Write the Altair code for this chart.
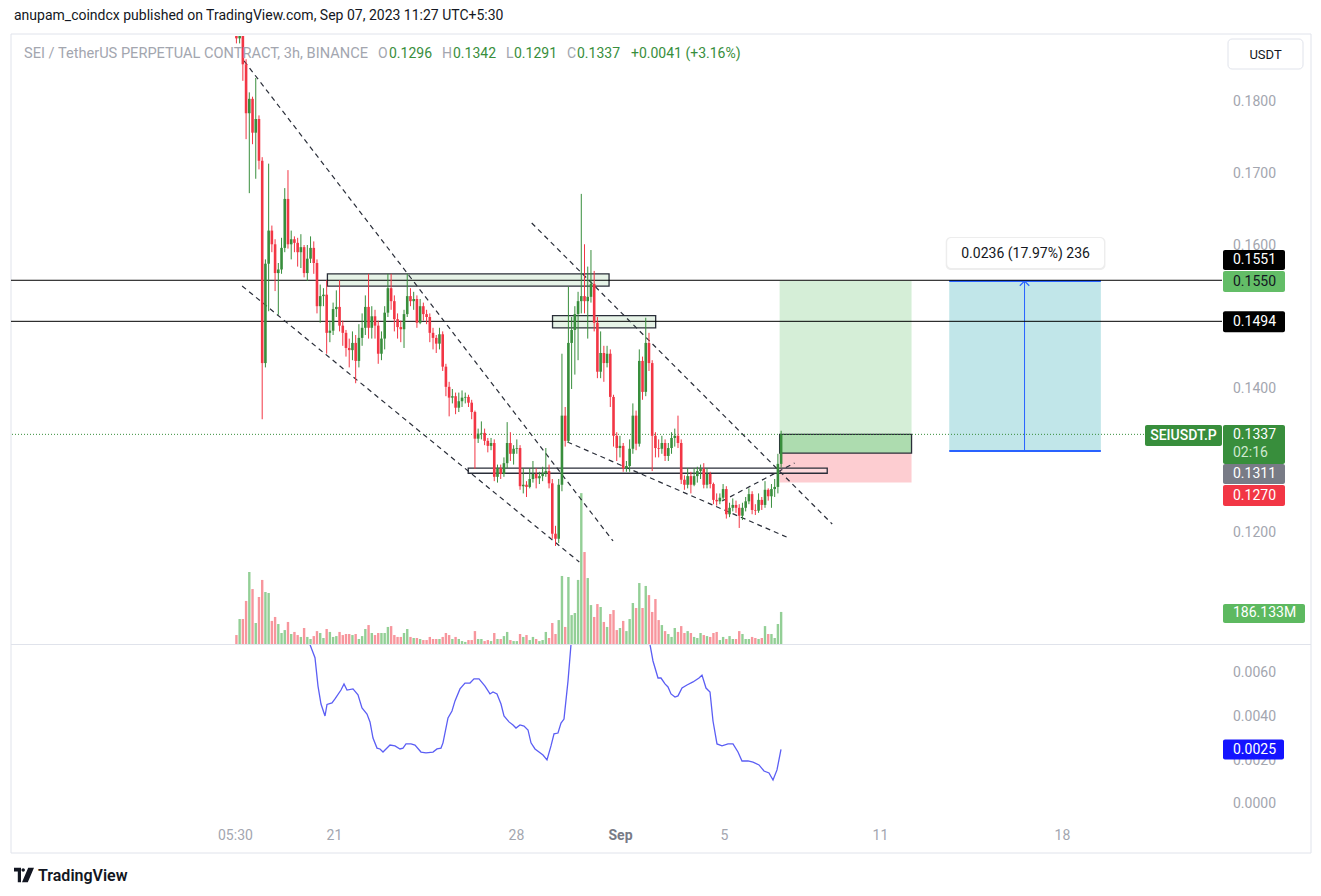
import altair as alt
import pandas as pd

# ---------------- data ----------------
first_open = 0.1900
closes = [
    0.1887, 0.1895, 0.1851, 0.1783, 0.1803, 0.1756, 0.1775, 0.1717, 0.1436, 0.1574,
    0.1620, 0.1601, 0.1561, 0.1566, 0.1596, 0.1664, 0.1601, 0.1608, 0.1603, 0.1590,
    0.1597, 0.1561, 0.1581, 0.1596, 0.1575, 0.1515, 0.1529, 0.1531, 0.1478, 0.1481,
    0.1511, 0.1514, 0.1488, 0.1478, 0.1457, 0.1454, 0.1464, 0.1439, 0.1471, 0.1485,
    0.1514, 0.1485, 0.1501, 0.1488, 0.1449, 0.1470, 0.1506, 0.1540, 0.1522, 0.1497,
    0.1486, 0.1483, 0.1504, 0.1529, 0.1522, 0.1525, 0.1492, 0.1515, 0.1504, 0.1500,
    0.1478, 0.1471, 0.1463, 0.1476, 0.1431, 0.1403, 0.1388, 0.1390, 0.1374, 0.1383,
    0.1388, 0.1389, 0.1381, 0.1368, 0.1331, 0.1338, 0.1339, 0.1328, 0.1321, 0.1325,
    0.1278, 0.1290, 0.1282, 0.1297, 0.1325, 0.1310, 0.1317, 0.1318, 0.1265, 0.1267,
    0.1264, 0.1275, 0.1282, 0.1276, 0.1279, 0.1283, 0.1286, 0.1269, 0.1199, 0.1192,
    0.1267, 0.1363, 0.1328, 0.1464, 0.1482, 0.1504, 0.1522, 0.1529, 0.1522, 0.1528,
    0.1546, 0.1492, 0.1424, 0.1450, 0.1436, 0.1449, 0.1389, 0.1335, 0.1318, 0.1321,
    0.1290, 0.1293, 0.1317, 0.1363, 0.1324, 0.1439, 0.1396, 0.1464, 0.1436, 0.1335,
    0.1318, 0.1317, 0.1325, 0.1307, 0.1318, 0.1332, 0.1335, 0.1325, 0.1274, 0.1267,
    0.1279, 0.1267, 0.1279, 0.1286, 0.1289, 0.1267, 0.1282, 0.1268, 0.1246, 0.1244,
    0.1249, 0.1261, 0.1226, 0.1235, 0.1239, 0.1235, 0.1224, 0.1235, 0.1244, 0.1254,
    0.1232, 0.1231, 0.1246, 0.1239, 0.1260, 0.1251, 0.1261, 0.1264, 0.1296, 0.1337,
]
highs = [
    0.1915, 0.1910, 0.1898, 0.1858, 0.1812, 0.1806, 0.1832, 0.1780, 0.1722, 0.1580,
    0.1713, 0.1627, 0.1608, 0.1575, 0.1610, 0.1679, 0.1704, 0.1620, 0.1612, 0.1610,
    0.1615, 0.1600, 0.1600, 0.1612, 0.1605, 0.1580, 0.1545, 0.1540, 0.1551, 0.1495,
    0.1520, 0.1537, 0.1551, 0.1495, 0.1482, 0.1470, 0.1480, 0.1475, 0.1490, 0.1505,
    0.1530, 0.1560, 0.1515, 0.1510, 0.1495, 0.1480, 0.1515, 0.1560, 0.1560, 0.1530,
    0.1505, 0.1495, 0.1510, 0.1560, 0.1540, 0.1535, 0.1530, 0.1525, 0.1520, 0.1510,
    0.1505, 0.1485, 0.1475, 0.1485, 0.1480, 0.1435, 0.1410, 0.1400, 0.1395, 0.1395,
    0.1398, 0.1395, 0.1392, 0.1385, 0.1370, 0.1345, 0.1355, 0.1345, 0.1332, 0.1332,
    0.1330, 0.1295, 0.1295, 0.1305, 0.1354, 0.1340, 0.1322, 0.1330, 0.1322, 0.1290,
    0.1272, 0.1290, 0.1300, 0.1290, 0.1285, 0.1292, 0.1318, 0.1295, 0.1275, 0.1210,
    0.1275, 0.1449, 0.1375, 0.1542, 0.1500, 0.1515, 0.1535, 0.1671, 0.1601, 0.1570,
    0.1593, 0.1564, 0.1500, 0.1480, 0.1460, 0.1460, 0.1455, 0.1392, 0.1340, 0.1335,
    0.1325, 0.1300, 0.1330, 0.1380, 0.1370, 0.1455, 0.1445, 0.1499, 0.1478, 0.1440,
    0.1340, 0.1330, 0.1335, 0.1330, 0.1325, 0.1340, 0.1345, 0.1363, 0.1330, 0.1280,
    0.1290, 0.1285, 0.1290, 0.1292, 0.1295, 0.1297, 0.1290, 0.1285, 0.1270, 0.1255,
    0.1255, 0.1268, 0.1265, 0.1242, 0.1248, 0.1245, 0.1240, 0.1242, 0.1250, 0.1262,
    0.1258, 0.1240, 0.1255, 0.1250, 0.1272, 0.1262, 0.1268, 0.1275, 0.1310, 0.1342,
]
lows = [
    0.1880, 0.1880, 0.1828, 0.1747, 0.1672, 0.1740, 0.1692, 0.1705, 0.1358, 0.1430,
    0.1508, 0.1590, 0.1536, 0.1503, 0.1560, 0.1590, 0.1595, 0.1580, 0.1590, 0.1570,
    0.1568, 0.1555, 0.1550, 0.1575, 0.1560, 0.1505, 0.1492, 0.1515, 0.1449, 0.1465,
    0.1475, 0.1500, 0.1480, 0.1460, 0.1445, 0.1430, 0.1440, 0.1408, 0.1430, 0.1460,
    0.1475, 0.1470, 0.1470, 0.1470, 0.1435, 0.1440, 0.1455, 0.1500, 0.1510, 0.1480,
    0.1470, 0.1465, 0.1457, 0.1500, 0.1515, 0.1510, 0.1485, 0.1490, 0.1495, 0.1490,
    0.1465, 0.1455, 0.1450, 0.1455, 0.1425, 0.1390, 0.1362, 0.1380, 0.1365, 0.1368,
    0.1375, 0.1380, 0.1375, 0.1358, 0.1289, 0.1325, 0.1330, 0.1322, 0.1312, 0.1315,
    0.1272, 0.1270, 0.1275, 0.1278, 0.1290, 0.1300, 0.1295, 0.1310, 0.1260, 0.1255,
    0.1250, 0.1262, 0.1270, 0.1262, 0.1268, 0.1272, 0.1278, 0.1262, 0.1192, 0.1182,
    0.1186, 0.1258, 0.1320, 0.1325, 0.1400, 0.1420, 0.1440, 0.1505, 0.1505, 0.1470,
    0.1520, 0.1480, 0.1415, 0.1415, 0.1410, 0.1430, 0.1375, 0.1320, 0.1300, 0.1305,
    0.1285, 0.1285, 0.1285, 0.1310, 0.1315, 0.1320, 0.1385, 0.1390, 0.1425, 0.1286,
    0.1305, 0.1305, 0.1310, 0.1300, 0.1300, 0.1310, 0.1320, 0.1318, 0.1268, 0.1260,
    0.1262, 0.1255, 0.1265, 0.1270, 0.1275, 0.1262, 0.1262, 0.1262, 0.1240, 0.1238,
    0.1240, 0.1245, 0.1220, 0.1222, 0.1230, 0.1228, 0.1207, 0.1218, 0.1230, 0.1240,
    0.1226, 0.1225, 0.1228, 0.1232, 0.1235, 0.1245, 0.1235, 0.1250, 0.1255, 0.1291,
]
volumes_m = [
    52, 145, 145, 250, 418, 319, 122, 273, 372, 302,
    296, 134, 157, 116, 64, 81, 128, 58, 70, 52,
    41, 93, 41, 29, 46, 75, 64, 35, 87, 70,
    41, 46, 70, 52, 58, 58, 52, 58, 29, 46,
    87, 110, 64, 52, 64, 64, 64, 99, 104, 52,
    41, 41, 64, 87, 41, 35, 35, 29, 23, 23,
    41, 29, 29, 29, 41, 64, 52, 29, 41, 29,
    17, 12, 23, 23, 75, 29, 29, 17, 23, 17,
    64, 29, 29, 46, 70, 23, 17, 17, 58, 41,
    52, 23, 41, 29, 17, 23, 70, 35, 122, 58,
    139, 395, 99, 389, 168, 180, 372, 876, 534, 383,
    226, 157, 232, 215, 128, 99, 174, 197, 81, 93,
    134, 75, 145, 238, 209, 354, 209, 337, 284, 186,
    261, 139, 110, 75, 58, 41, 93, 70, 104, 64,
    75, 64, 41, 35, 64, 52, 46, 41, 64, 70,
    23, 41, 29, 46, 29, 29, 75, 58, 29, 29,
    41, 35, 29, 35, 104, 58, 58, 35, 116, 186.133,
]
# lower indicator (day of month, value)
ind_days = [
    19.96, 20.077, 20.269, 20.385, 20.5, 20.654, 20.731, 20.923, 21.038, 21.269,
    21.385, 21.5, 21.731, 21.923, 22.077, 22.269, 22.385, 22.5, 22.654, 22.769,
    22.885, 23.154, 23.346, 23.538, 23.654, 23.769, 23.962, 24.115, 24.346, 24.538,
    24.808, 24.962, 25.115, 25.192, 25.385, 25.538, 25.654, 25.846, 26.038, 26.231,
    26.385, 26.577, 26.808, 27.0, 27.115, 27.269, 27.423, 27.538, 27.731, 27.885,
    28.0, 28.154, 28.308, 28.462, 28.577, 28.731, 28.885, 29.038, 29.192, 29.346,
    29.462, 29.615, 29.731, 29.846, 30.0, 30.115, 30.5, 31.27, 32.04, 32.81,
    33.154, 33.269, 33.462, 33.577, 33.731, 33.846, 33.962, 34.115, 34.231, 34.385,
    34.577, 34.808, 35.038, 35.154, 35.308, 35.462, 35.577, 35.731, 35.923, 36.154,
    36.346, 36.538, 36.692, 36.923, 37.115, 37.346, 37.538, 37.731, 37.885, 38.038,
    38.192,
]
ind_vals = [
    0.0085, 0.0073, 0.0067, 0.0054, 0.00458, 0.00403, 0.00456, 0.00463, 0.00481, 0.00522,
    0.0055, 0.00522, 0.00527, 0.0050, 0.0044, 0.00412, 0.00376, 0.00302, 0.00256, 0.00252,
    0.00238, 0.0027, 0.00266, 0.00252, 0.00256, 0.00275, 0.00275, 0.0027, 0.00238, 0.00234,
    0.00238, 0.00252, 0.00256, 0.0028, 0.00394, 0.00426, 0.00472, 0.00527, 0.00554, 0.00554,
    0.00573, 0.00573, 0.0054, 0.00504, 0.00513, 0.00504, 0.00458, 0.00403, 0.00376, 0.00362,
    0.00348, 0.00362, 0.00357, 0.00339, 0.0028, 0.00252, 0.00238, 0.00224, 0.00202, 0.00266,
    0.00321, 0.00325, 0.00371, 0.00389, 0.00563, 0.0073, 0.0095, 0.0110, 0.0110, 0.0090,
    0.0073, 0.00655, 0.00577, 0.00577, 0.0055, 0.00536, 0.00504, 0.0049, 0.00495, 0.00531,
    0.00545, 0.00559, 0.00577, 0.0059, 0.00531, 0.00513, 0.0038, 0.00275, 0.00266, 0.00275,
    0.00275, 0.00238, 0.00197, 0.00197, 0.00192, 0.00179, 0.00151, 0.00142, 0.0011, 0.00156,
    0.0025,
]

# price-scale tick labels that the picture shows (others are hidden behind price tags)
price_ticks = [0.12, 0.14, 0.16, 0.17, 0.18]
ind_ticks = [0.0, 0.002, 0.004, 0.006]
x_tick_days = [17.19, 21, 28, 32, 36, 42, 49]
x_tick_labels = ["05:30", "21", "28", "Sep", "5", "11", "18"]

hlines = [0.1551, 0.1494]

box_x0 = [20.654, 29.385, 26.115]
box_x1 = [31.577, 33.385, 40.038]
box_lo = [0.1543, 0.1485, 0.1283]
box_hi = [0.1560, 0.1502, 0.1290]

trend_x0 = [17.423, 17.346, 28.577, 29.962, 35.962]
trend_p0 = [0.18556, 0.15431, 0.16306, 0.13264, 0.12444]
trend_x1 = [31.731, 30.423, 40.231, 38.462, 38.769]
trend_p1 = [0.11889, 0.11597, 0.12125, 0.11944, 0.12972]

pos_x0, pos_x1 = 38.192, 43.308
pos_entry, pos_target, pos_stop = 0.1311, 0.1550, 0.1270
last_price = closes[-1]

meas_x0, meas_x1, meas_mid = 44.77, 50.65, 47.69
meas_lo, meas_hi = 0.1314, 0.1550
meas_text = "0.0236 (17.97%) 236"

attribution = "anupam_coindcx published on TradingView.com, Sep 07, 2023 11:27 UTC+5:30"
symbol_title = "SEI / TetherUS PERPETUAL CONTRACT, 3h, BINANCE"
countdown = "02:16"
ticker = "SEIUSDT.P"
ind_last = ind_vals[-1]

# ---------------- styling ----------------
FONT = "Roboto"
GREEN, RED = "#388e3c", "#f23645"
VGREEN, VRED = "#93cf96", "#f7969d"
AXIS_TXT = "#a3a6af"
DARK = "#131722"
LINE_DARK = "#2a2e39"
BLUE = "#2962ff"

XS = alt.Scale(domain=[8.577, 55.154], nice=False, zero=False)
YS = alt.Scale(domain=[0.104583, 0.189028], nice=False, zero=False, clamp=True)
VS = alt.Scale(domain=[0, 3530], nice=False, zero=True)
IS = alt.Scale(domain=[-0.000779, 0.007282], nice=False, zero=False)

n = len(closes)
days = [17.125 + 0.125 * i for i in range(n)]
opens = [first_open] + closes[:-1]
cdf = pd.DataFrame(dict(d=days, o=opens, h=highs, l=lows, c=closes, v=volumes_m))
one = pd.DataFrame({"k": [0]})

UP = "datum.c >= datum.o"
DN = "datum.c < datum.o"
Xf = alt.X("d:Q", scale=XS, axis=None)


def xd(v):
    return alt.XDatum(v, scale=XS, axis=None)


def yd(v):
    return alt.YDatum(v, scale=YS, axis=None)


def one_chart():
    return alt.Chart(one)


# ---------------- volume (own scale) ----------------
vol_layers = []
for flt, col in ((UP, VGREEN), (DN, VRED)):
    vol_layers.append(
        alt.Chart(cdf).transform_filter(flt).mark_bar(size=2.4, color=col).encode(
            x=Xf, y=alt.Y("v:Q", scale=VS, axis=None)))
vlast = volumes_m[-1]
vol_layers.append(one_chart().mark_rect(color="#5db960", cornerRadius=2, yOffset=-8, y2Offset=11).encode(
    x=alt.value(1212), x2=alt.value(1294),
    y=alt.YDatum(vlast, scale=VS, axis=None), y2=alt.Y2Datum(vlast)))
vol_layers.append(one_chart().mark_text(text=f"{vlast:.3f}M", align="left", baseline="middle",
                                        fontSize=14, color="#ffffff", dy=1.5).encode(
    x=alt.value(1222), y=alt.YDatum(vlast, scale=VS, axis=None)))
vol_layer = alt.layer(*vol_layers)

# ---------------- price layers ----------------
P = []
# outer frame of the whole chart
P.append(one_chart().mark_rect(fillOpacity=0, stroke="#e0e3eb", strokeWidth=1).encode(
    x=alt.value(0), x2=alt.value(1300), y=alt.value(-2), y2=alt.value(817)))
# price scale tick labels
tick_df = pd.DataFrame({"p": price_ticks, "lab": [f"{t:.4f}" for t in price_ticks]})
P.append(alt.Chart(tick_df).mark_text(align="left", baseline="middle", fontSize=14, color=AXIS_TXT,
                                      dy=0.5).encode(
    x=alt.value(1222), y=alt.Y("p:Q", scale=YS, axis=None), text="lab:N"))
# long position tool
P.append(one_chart().mark_rect(color="#d5eed7").encode(
    x=xd(pos_x0), x2=alt.X2Datum(pos_x1), y=yd(pos_entry), y2=alt.Y2Datum(pos_target)))
P.append(one_chart().mark_rect(color="#fdcdd1").encode(
    x=xd(pos_x0), x2=alt.X2Datum(pos_x1), y=yd(pos_stop), y2=alt.Y2Datum(pos_entry)))
P.append(one_chart().mark_rect(color="#addcaf", stroke=LINE_DARK, strokeWidth=1.3).encode(
    x=xd(pos_x0), x2=alt.X2Datum(pos_x1), y=yd(pos_entry), y2=alt.Y2Datum(last_price)))
# price range measurement
P.append(one_chart().mark_rect(color="#c1e6e9").encode(
    x=xd(meas_x0), x2=alt.X2Datum(meas_x1), y=yd(meas_lo), y2=alt.Y2Datum(meas_hi)))
for p in (meas_lo, meas_hi):
    P.append(one_chart().mark_rule(color=BLUE, strokeWidth=2).encode(
        x=xd(meas_x0), x2=alt.X2Datum(meas_x1), y=yd(p)))
P.append(one_chart().mark_rule(color=BLUE, strokeWidth=1).encode(
    x=xd(meas_mid), y=yd(meas_lo), y2=alt.Y2Datum(meas_hi)))
P.append(one_chart().mark_point(shape="M-1,1L0,0L1,1", size=90, filled=False, color=BLUE,
                                 strokeWidth=1.2, opacity=1).encode(x=xd(meas_mid), y=yd(meas_hi)))
# rectangles (zones)
bdf = pd.DataFrame(dict(x0=box_x0, x1=box_x1, lo=box_lo, hi=box_hi, k=list(range(len(box_x0)))))
for flt, fillc, fo in (("datum.k < 2", "#e6f3e7", 1.0), ("datum.k >= 2", "#ffffff", 0.25)):
    P.append(alt.Chart(bdf).transform_filter(flt).mark_rect(
        color=fillc, fillOpacity=fo, stroke=LINE_DARK, strokeWidth=1.3, strokeOpacity=1).encode(
        x=alt.X("x0:Q", scale=XS, axis=None), x2="x1:Q",
        y=alt.Y("lo:Q", scale=YS, axis=None), y2="hi:Q"))
# horizontal levels
P.append(alt.Chart(pd.DataFrame({"p": hlines})).mark_rule(color="#000000", strokeWidth=1).encode(
    y=alt.Y("p:Q", scale=YS, axis=None)))
P.append(one_chart().mark_rule(color=GREEN, strokeWidth=1, strokeDash=[1, 2]).encode(y=yd(last_price)))
# dashed trend lines
tdf = pd.DataFrame(dict(x0=trend_x0, p0=trend_p0, x1=trend_x1, p1=trend_p1))
P.append(alt.Chart(tdf).mark_rule(color=LINE_DARK, strokeWidth=1.2, strokeDash=[5, 4]).encode(
    x=alt.X("x0:Q", scale=XS, axis=None), x2="x1:Q",
    y=alt.Y("p0:Q", scale=YS, axis=None), y2="p1:Q"))
# candles
for flt, col in ((UP, GREEN), (DN, RED)):
    P.append(alt.Chart(cdf).transform_filter(flt).mark_rule(color=col, strokeWidth=1, clip=True).encode(
        x=Xf, y=alt.Y("l:Q", scale=YS, axis=None), y2="h:Q"))
    P.append(alt.Chart(cdf).transform_filter(flt).mark_bar(size=2.6, color=col, clip=True).encode(
        x=Xf, y=alt.Y("o:Q", scale=YS, axis=None), y2="c:Q"))

# header texts
P.append(one_chart().mark_text(text=attribution, align="left", baseline="top", fontSize=14,
                               color=DARK).encode(x=alt.value(3), y=alt.value(-27)))
o_, h_, l_, c_ = opens[-1], highs[-1], lows[-1], closes[-1]
chg = c_ - o_
head = [
    (13, symbol_title, AXIS_TXT, 14.6), (367, "O", AXIS_TXT, 14), (378, f"{o_:.4f}", GREEN, 14),
    (431, "H", AXIS_TXT, 14), (442, f"{h_:.4f}", GREEN, 14), (495, "L", AXIS_TXT, 14),
    (503, f"{l_:.4f}", GREEN, 14), (556, "C", AXIS_TXT, 14), (566, f"{c_:.4f}", GREEN, 14),
    (620, f"{chg:+.4f} ({chg / o_ * 100:+.2f}%)", GREEN, 14),
]
for hx, txt, col, fs in head:
    P.append(one_chart().mark_text(text=txt, align="left", baseline="middle", fontSize=fs,
                                   color=col).encode(x=alt.value(hx), y=alt.value(18)))

# price-scale labels: (price, text, bg, fg, box top offset, box bottom offset, text offset)
price_labels = [
    (0.1551, "0.1551", "#000000", "#ffffff", -30.3, -10.3, -20.0),
    (pos_target, "0.1550", "#63bd67", DARK, -10.0, 11.0, 0.7),
    (0.1494, "0.1494", "#000000", "#ffffff", -10.0, 11.0, 0.7),
    (last_price, f"{last_price:.4f}", GREEN, "#ffffff", -9.4, 29.6, 0.8),
    (pos_entry, f"{pos_entry:.4f}", "#787b86", "#ffffff", 10.9, 30.9, 21.2),
    (pos_stop, f"{pos_stop:.4f}", RED, "#ffffff", 2.4, 23.4, 13.2),
]
for p, txt, bg, fg, t0, t1, dy in price_labels:
    P.append(one_chart().mark_rect(color=bg, cornerRadius=2, yOffset=t0, y2Offset=t1).encode(
        x=alt.value(1212), x2=alt.value(1274), y=yd(p), y2=alt.Y2Datum(p)))
    P.append(one_chart().mark_text(text=txt, align="left", baseline="middle", fontSize=14,
                                   color=fg, dy=dy).encode(x=alt.value(1222), y=yd(p)))
P.append(one_chart().mark_text(text=countdown, align="left", baseline="middle", fontSize=14,
                               color="#cfe8d0", dy=18.8).encode(x=alt.value(1222), y=yd(last_price)))
# ticker tag
P.append(one_chart().mark_rect(color=GREEN, cornerRadius=2, yOffset=-9.4, y2Offset=11.6).encode(
    x=alt.value(1134), x2=alt.value(1211), y=yd(last_price), y2=alt.Y2Datum(last_price)))
P.append(one_chart().mark_text(text=ticker, align="center", baseline="middle", fontSize=14,
                               fontWeight=500, color="#ffffff", dy=1.2).encode(
    x=alt.value(1172.5), y=yd(last_price)))
# currency button
P.append(one_chart().mark_rect(color="#ffffff", stroke="#e0e3eb", strokeWidth=1, cornerRadius=4).encode(
    x=alt.value(1217), x2=alt.value(1292), y=alt.value(3), y2=alt.value(33)))
P.append(one_chart().mark_text(text="USDT", align="center", baseline="middle", fontSize=13,
                               color=DARK).encode(x=alt.value(1254.5), y=alt.value(18.5)))
# measurement label
P.append(one_chart().mark_rect(color="#000000", opacity=0.07, cornerRadius=5, yOffset=-44,
                               y2Offset=-11, xOffset=-1.5, x2Offset=1.5).encode(
    x=xd(meas_x0 - 0.08), x2=alt.X2Datum(meas_x1 + 0.12), y=yd(meas_hi), y2=alt.Y2Datum(meas_hi)))
P.append(one_chart().mark_rect(color="#ffffff", cornerRadius=4, yOffset=-43, y2Offset=-13).encode(
    x=xd(meas_x0 - 0.08), x2=alt.X2Datum(meas_x1 + 0.12), y=yd(meas_hi), y2=alt.Y2Datum(meas_hi)))
P.append(one_chart().mark_text(text=meas_text, align="center", baseline="middle", fontSize=14,
                               color=DARK, dy=-27.5).encode(x=xd(meas_mid + 0.04), y=yd(meas_hi)))

price_layer = alt.layer(*P)

main = alt.layer(vol_layer, price_layer).resolve_scale(y="independent").properties(width=1211, height=608)

# ---------------- lower indicator panel ----------------
expr = "''"
for v, lab in reversed(list(zip(x_tick_days, x_tick_labels))):
    expr = f"datum.value == {v} ? '{lab}' : ({expr})"
X_AXIS = alt.Axis(values=x_tick_days, labelExpr=expr, title=None, ticks=False, tickSize=0, domain=False,
                  grid=False, labelPadding=7, labelFontSize=14, labelFont=FONT, labelOverlap=False,
                  labelFlush=False,
                  labelColor={"condition": {"test": "datum.value == 32", "value": "#787b86"}, "value": AXIS_TXT},
                  labelFontWeight={"condition": {"test": "datum.value == 32", "value": "bold"}, "value": "normal"})

idf = pd.DataFrame({"d": ind_days, "val": ind_vals})
itick_df = pd.DataFrame({"p": ind_ticks, "lab": [f"{t:.4f}" for t in ind_ticks]})
L = []
L.append(one_chart().mark_rule(color="#e0e3eb", strokeWidth=1).encode(
    x=alt.value(0), x2=alt.value(1300), y=alt.value(-0.5)))
L.append(alt.Chart(itick_df).mark_text(align="left", baseline="middle", fontSize=14, color=AXIS_TXT,
                                       dy=0.5).encode(
    x=alt.value(1222), y=alt.Y("p:Q", scale=IS, axis=None), text="lab:N"))
L.append(alt.Chart(idf).mark_line(color="#5b5ef4", strokeWidth=1.3, clip=True).encode(
    x=alt.X("d:Q", scale=XS, axis=X_AXIS), y=alt.Y("val:Q", scale=IS, axis=None)))
L.append(one_chart().mark_rect(color="#1414ff", cornerRadius=2, yOffset=-10, y2Offset=10).encode(
    x=alt.value(1212), x2=alt.value(1273),
    y=alt.YDatum(ind_last, scale=IS, axis=None), y2=alt.Y2Datum(ind_last)))
L.append(one_chart().mark_text(text=f"{ind_last:.4f}", align="left", baseline="middle", fontSize=14,
                               color="#ffffff", dy=0.7).encode(
    x=alt.value(1222), y=alt.YDatum(ind_last, scale=IS, axis=None)))
# footer
logo = ("M-1,-0.72 L-0.3,-0.72 L-0.3,0.72 L-0.62,0.72 L-0.62,-0.36 L-1,-0.36 Z "
        "M-0.25,-0.5 A0.17,0.17 0 1,0 0.09,-0.5 A0.17,0.17 0 1,0 -0.25,-0.5 Z "
        "M0.42,-0.72 L1,-0.72 L0.38,0.72 L-0.2,0.72 Z")
L.append(one_chart().mark_point(shape=logo, size=400, filled=True, color=DARK, opacity=1).encode(
    x=alt.value(13), y=alt.value(230)))
L.append(one_chart().mark_text(text="TradingView", align="left", baseline="middle", fontSize=16,
                               fontWeight=600, color=DARK).encode(x=alt.value(27), y=alt.value(231)))
lower = alt.layer(*L).properties(width=1211, height=176)

chart = alt.vconcat(main, lower, spacing=1, bounds="flush").properties(
    padding={"left": 2, "top": 0, "right": 0, "bottom": 0}
).configure(font=FONT).configure_view(stroke="transparent")

chart.save("out.html", embed_options={"renderer": "svg", "actions": False})
